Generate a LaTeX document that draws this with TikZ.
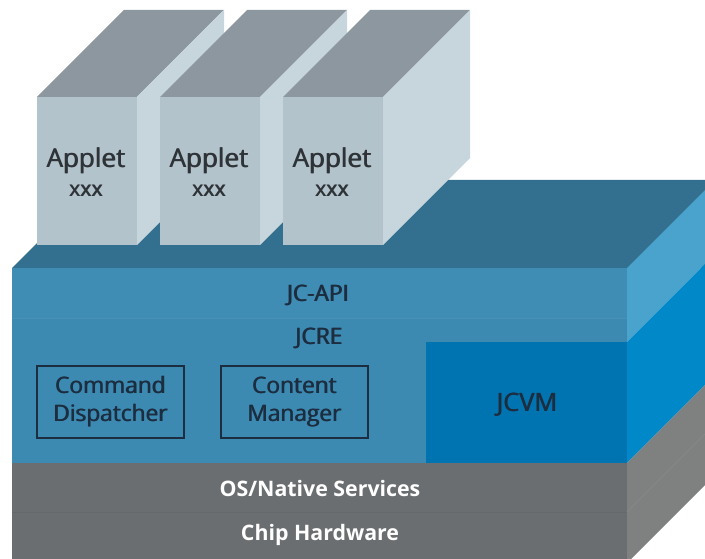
\documentclass[tikz,border=0pt]{standalone}
\usepackage{fontspec}
\setmainfont{Open Sans}
% a heavier weight: the text set twice, the second copy shifted a little
\newcommand\heavy[2]{\rlap{#2}\kern#1\relax#2}
\definecolor{apTop}{HTML}{8C979F}
\definecolor{apFront}{HTML}{B3C3CB}
\definecolor{apSide}{HTML}{C7D6DD}
\definecolor{blTop}{HTML}{336F8E}
\definecolor{blApi}{HTML}{3F8CB4}
\definecolor{blJcre}{HTML}{3C89B1}
\definecolor{blApiSide}{HTML}{4AA3CC}
\definecolor{vmFront}{HTML}{0074B0}
\definecolor{vmSide}{HTML}{0088C8}
\definecolor{grFront}{HTML}{6B6E71}
\definecolor{grSide}{HTML}{7F8080}
\definecolor{navy}{HTML}{1C2D3F}
\definecolor{apText}{HTML}{2E3338}
\tikzset{
  lbl/.style={font=\fontsize{17}{21}\selectfont, text=navy, inner sep=0pt, align=center},
  glbl/.style={font=\fontsize{16}{19}\selectfont\bfseries, text=white, inner sep=0pt},
  aplbl/.style={font=\fontsize{19.5}{22.5}\selectfont, text=apText, inner sep=0pt, align=center},
  modbox/.style={draw=navy, line width=1.1pt, minimum width=110pt, minimum height=54pt, inner sep=0pt}
}
\begin{document}
\begin{tikzpicture}[x=0.75pt,y=-0.75pt]
\useasboundingbox (0,0) rectangle (705,559);
\begin{scope}
\clip (0,0) rectangle (705,559);
% main block: top face
\fill[blTop] (12,268) -- (100,180) -- (800,180) -- (712,268) -- cycle;
% right side faces
\fill[blApiSide] (627,268) -- (715,180) -- (715,254) -- (627,342) -- cycle;
\fill[vmSide] (627,342) -- (715,254) -- (715,375) -- (627,463) -- cycle;
\fill[grSide] (627,463) -- (715,375) -- (715,475) -- (627,563) -- cycle;
\draw[grSide!92!white, line width=0.5pt] (627,512) -- (715,424);
% front faces
\fill[blApi] (12,268) rectangle (627,318);
\fill[blJcre] (12,318) rectangle (627,463);
\draw[blApi!96!white, line width=0.4pt] (12,318) -- (627,318);
\fill[vmFront] (426,342) rectangle (627,463);
\fill[grFront] (12,463) rectangle (627,563);
\draw[grFront!95!black, line width=0.4pt] (12,512) -- (627,512);
\end{scope}
% applet boxes
\foreach \x/\n in {37/a1,160/a2,283/a3}{
  \fill[apTop] (\x,97) -- (\x+87,10) -- (\x+187,10) -- (\x+100,97) -- cycle;
  \fill[apSide] (\x+100,97) -- (\x+187,10) -- (\x+187,158) -- (\x+100,245) -- cycle;
  \fill[apFront] (\x,97) rectangle (\x+100,245);
  \node[aplbl] (\n) at (\x+49,172) {\heavy{0.6pt}{Applet}\\[-1pt]{\fontsize{16}{19}\selectfont\heavy{0.7pt}{xxx}}};
}
% labels
\node[lbl] (api) at (318,295) {\heavy{0.7pt}{JC-API}};
\node[lbl] (jcre) at (319,338) {\heavy{0.7pt}{JCRE}};
\node[modbox, lbl] (cmd) at (110.5,402) {\heavy{0.6pt}{Command}\\\heavy{0.6pt}{Dispatcher}};
\node[modbox, lbl] (cnt) at (294.5,402) {\heavy{0.6pt}{Content}\\\heavy{0.6pt}{Manager}};
\node[lbl, font=\fontsize{19}{21}\selectfont] (jcvm) at (527,405) {\heavy{0.6pt}{JCVM}};
\node[glbl] (os) at (320,488) {OS/Native Services};
\node[glbl] (chip) at (320,535) {Chip Hardware};
\end{tikzpicture}
\end{document}
